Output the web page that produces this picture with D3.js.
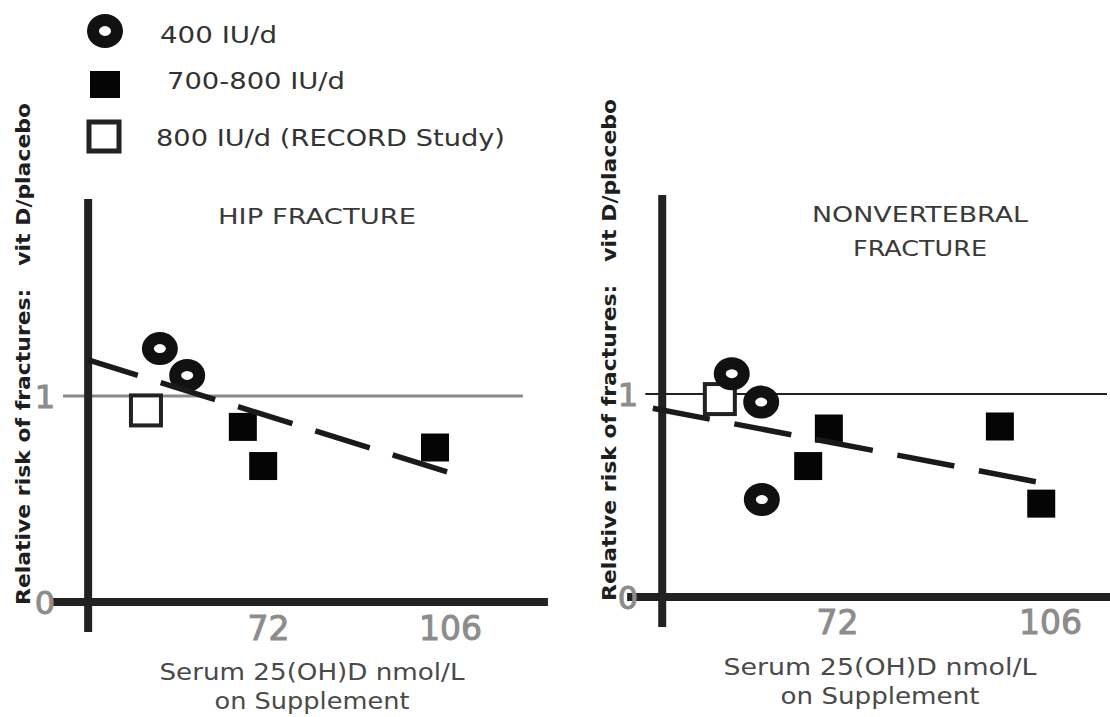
<!DOCTYPE html>
<html>
<head>
<meta charset="utf-8">
<script src="https://cdn.jsdelivr.net/npm/d3@7"></script>
<style>
  html, body { margin: 0; padding: 0; background: #fff; }
  svg { display: block; }
  text { font-family: "DejaVu Sans", Verdana, sans-serif; }
</style>
</head>
<body>
<script>
// Relative risk of fracture (vitamin D / placebo) vs. achieved serum 25(OH)D

// Hip fracture panel: [serum 25(OH)D nmol/L, relative risk]
const hipDose400 = [[51.8, 1.23], [56.9, 1.10]];
const hipDose700 = [[67.3, 0.85], [71.1, 0.66], [103.2, 0.75]];
const hipRecord = [[49.2, 0.93]];
const hipTrend = [[38.4, 1.175], [105.6, 0.63]];

// Nonvertebral fracture panel
const nvDose400 = [[55.2, 1.10], [59.9, 0.96], [60.0, 0.48]];
const nvDose700 = [[70.7, 0.83], [67.4, 0.645], [98.0, 0.84], [104.6, 0.46]];
const nvRecord = [[53.3, 0.975]];
const nvTrend = [[42.6, 0.93], [103.9, 0.567]];

const xTicks = [72, 106];
const yTicks = [0, 1];

const legendLabels = ["400 IU/d", "700-800 IU/d", "800 IU/d (RECORD Study)"];
const yTitle = "Relative risk of fractures:\u00a0\u00a0\u00a0vit D/placebo";
const xTitle = ["Serum 25(OH)D nmol/L", "on Supplement"];

const W = 1110, H = 717;
const svg = d3.select("body").append("svg").attr("width", W).attr("height", H);

const panels = [
  {
    title: ["HIP FRACTURE"], titleX: 317, titleY: [224], titleLen: [198],
    xRange: [268, 450], yRange: [602, 396],
    axisX: [31.8, 124.3], axisY: [-0.146, 1.956], vAxisAt: 38.4,
    refX: [33.7, 119.6], refColor: "#8a8a8a", refWidth: 3.2,
    dose400: hipDose400, dose700: hipDose700, record: hipRecord, trend: hipTrend,
    dash: "57,24", dashOff: 5,
    yLabelX: 55, yTitleX: 23, yTitleMid: 354,
    xTickY: 640, xTitleX: 312, xTitleY: [680, 709], xTitleLen: [305, 195]
  },
  {
    title: ["NONVERTEBRAL", "FRACTURE"], titleX: 920, titleY: [222, 256], titleLen: [216, 134],
    xRange: [837, 1050], yRange: [597, 394],
    axisX: [38.5, 116], axisY: [-0.148, 1.98], vAxisAt: 44.1,
    refX: [41.4, 115.1], refColor: "#222", refWidth: 2,
    dose400: nvDose400, dose700: nvDose700, record: nvRecord, trend: nvTrend,
    dash: "58,25", dashOff: 0,
    yLabelX: 638, yTitleX: 609, yTitleMid: 350,
    xTickY: 634, xTitleX: 880, xTitleY: [675, 704], xTitleLen: [313, 199]
  }
];

panels.forEach(p => {
  const x = d3.scaleLinear().domain([72, 106]).range(p.xRange);
  const y = d3.scaleLinear().domain([0, 1]).range(p.yRange);
  const g = svg.append("g");

  // title
  p.title.forEach((t, i) => {
    g.append("text").attr("x", p.titleX).attr("y", p.titleY[i])
      .attr("text-anchor", "middle").attr("font-size", 22).attr("fill", "#3a3a3a")
      .attr("textLength", p.titleLen[i]).attr("lengthAdjust", "spacingAndGlyphs")
      .text(t);
  });

  // y = 1 reference line
  g.append("line")
    .attr("x1", x(p.refX[0])).attr("x2", x(p.refX[1]))
    .attr("y1", y(1)).attr("y2", y(1))
    .attr("stroke", p.refColor).attr("stroke-width", p.refWidth);

  // heavy axis lines
  g.append("line")
    .attr("x1", x(p.axisX[0])).attr("x2", x(p.axisX[1]))
    .attr("y1", y(0)).attr("y2", y(0))
    .attr("stroke", "#222").attr("stroke-width", 8);
  g.append("line")
    .attr("x1", x(p.vAxisAt)).attr("x2", x(p.vAxisAt))
    .attr("y1", y(p.axisY[0])).attr("y2", y(p.axisY[1]))
    .attr("stroke", "#222").attr("stroke-width", 8);

  // tick labels through d3 axes
  const yAxis = g.append("g").attr("transform", `translate(${p.yLabelX},0)`)
    .call(d3.axisLeft(y).tickValues(yTicks).tickSize(0).tickPadding(0).tickFormat(d3.format("d")));
  yAxis.select(".domain").remove();
  yAxis.selectAll("text").attr("font-size", 32)
    .attr("fill", "#8c8c8c").attr("stroke", "#8c8c8c").attr("stroke-width", 1)
    .attr("font-family", "DejaVu Sans").attr("dy", "0.36em");

  const xAxis = g.append("g").attr("transform", `translate(0,${p.xTickY})`)
    .call(d3.axisBottom(x).tickValues(xTicks).tickSize(0).tickPadding(0).tickFormat(d3.format("d")));
  xAxis.select(".domain").remove();
  xAxis.selectAll("text").attr("font-size", 33)
    .attr("fill", "#8c8c8c").attr("stroke", "#8c8c8c").attr("stroke-width", 1)
    .attr("font-family", "DejaVu Sans").attr("dy", 0);

  // y title
  g.append("text")
    .attr("transform", `translate(${p.yTitleX},${p.yTitleMid}) rotate(-90)`)
    .attr("text-anchor", "middle").attr("dy", "0.35em")
    .attr("font-size", 20).attr("font-weight", "bold").attr("fill", "#1e1e1e")
    .attr("textLength", 502).attr("lengthAdjust", "spacingAndGlyphs")
    .text(yTitle);

  // x title
  xTitle.forEach((t, i) => {
    g.append("text").attr("x", p.xTitleX).attr("y", p.xTitleY[i])
      .attr("text-anchor", "middle").attr("font-size", 23).attr("fill", "#4a4a4a")
      .attr("textLength", p.xTitleLen[i]).attr("lengthAdjust", "spacingAndGlyphs")
      .text(t);
  });

  // markers
  g.selectAll(".rec").data(p.record).join("rect")
    .attr("x", d => x(d[0]) - 15).attr("y", d => y(d[1]) - 15)
    .attr("width", 30).attr("height", 30)
    .attr("fill", "#fff").attr("stroke", "#222").attr("stroke-width", 4);

  g.selectAll(".d700").data(p.dose700).join("rect")
    .attr("x", d => x(d[0]) - 14).attr("y", d => y(d[1]) - 14)
    .attr("width", 28).attr("height", 28).attr("fill", "#050505");

  g.selectAll(".d400").data(p.dose400).join("ellipse")
    .attr("cx", d => x(d[0])).attr("cy", d => y(d[1]))
    .attr("rx", 12).attr("ry", 10.5)
    .attr("fill", "#fff").attr("stroke", "#111").attr("stroke-width", 12);

  // dashed trend
  g.append("line")
    .attr("x1", x(p.trend[0][0])).attr("y1", y(p.trend[0][1]))
    .attr("x2", x(p.trend[1][0])).attr("y2", y(p.trend[1][1]))
    .attr("stroke", "#1a1a1a").attr("stroke-width", 5.5)
    .attr("stroke-dasharray", p.dash).attr("stroke-dashoffset", p.dashOff);
});

// legend
const legend = svg.append("g");
legend.append("ellipse").attr("cx", 105).attr("cy", 31).attr("rx", 12).attr("ry", 11)
  .attr("fill", "#fff").attr("stroke", "#111").attr("stroke-width", 12);
legend.append("rect").attr("x", 90).attr("y", 71).attr("width", 30).attr("height", 27).attr("fill", "#050505");
legend.append("rect").attr("x", 89).attr("y", 122).attr("width", 30).attr("height", 29)
  .attr("fill", "#fff").attr("stroke", "#222").attr("stroke-width", 5);

const legendPos = [[160, 43, 117], [167, 89, 178], [156, 146, 349]];
legendLabels.forEach((t, i) => {
  legend.append("text").attr("x", legendPos[i][0]).attr("y", legendPos[i][1])
    .attr("font-size", 23).attr("fill", "#333")
    .attr("textLength", legendPos[i][2]).attr("lengthAdjust", "spacingAndGlyphs")
    .text(t);
});
</script>
</body>
</html>
